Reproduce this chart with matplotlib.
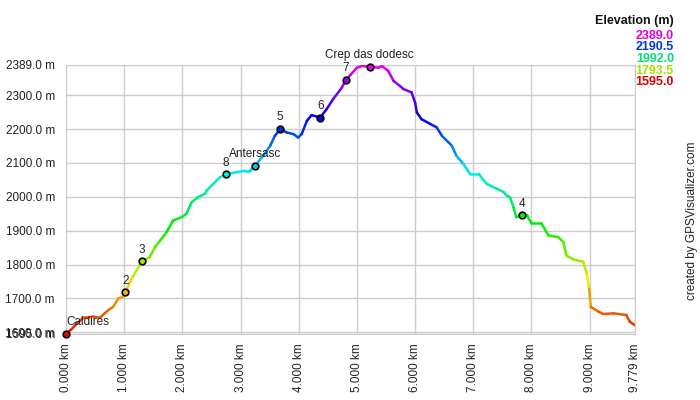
import numpy as np
import matplotlib
matplotlib.use("Agg")
import matplotlib.pyplot as plt
from matplotlib.collections import LineCollection
from matplotlib.colors import hsv_to_rgb

plt.rcParams['font.family'] = ['Liberation Sans', 'DejaVu Sans']

# profile (km, m)
dist_km = [0.00, 0.10, 0.20, 0.30, 0.47, 0.58, 0.73, 0.81, 0.90, 0.985,
           1.02, 1.15, 1.31, 1.44, 1.53, 1.62, 1.73, 1.84, 1.99, 2.07,
           2.16, 2.27, 2.39, 2.42, 2.53, 2.65, 2.75, 2.88, 3.08, 3.16,
           3.25, 3.39, 3.51, 3.59, 3.68, 3.79, 3.91, 3.99, 4.05, 4.14,
           4.22, 4.37, 4.48, 4.59, 4.74, 4.81, 4.90, 5.00, 5.08, 5.22,
           5.37, 5.43, 5.54, 5.63, 5.74, 5.80, 5.94, 6.00, 6.03, 6.11,
           6.26, 6.37, 6.46, 6.63, 6.71, 6.83, 6.94, 7.09, 7.23, 7.40,
           7.52, 7.57, 7.63, 7.69, 7.74, 7.84, 7.92, 8.00, 8.17, 8.29,
           8.46, 8.55, 8.60, 8.72, 8.89, 8.95, 8.99, 9.02, 9.15, 9.23,
           9.41, 9.63, 9.69, 9.779]
elev_m = [1595, 1610, 1628, 1643, 1646, 1643, 1666, 1675, 1700, 1705,
          1718, 1765, 1810, 1822, 1852, 1871, 1896, 1930, 1940, 1950,
          1984, 1999, 2009, 2019, 2038, 2058, 2066, 2071, 2077, 2077,
          2092, 2121, 2151, 2180, 2200, 2190, 2185, 2175, 2185, 2224,
          2241, 2234, 2259, 2288, 2322, 2345, 2362, 2381, 2386, 2384,
          2381, 2386, 2371, 2342, 2327, 2318, 2308, 2278, 2249, 2229,
          2215, 2205, 2180, 2151, 2121, 2097, 2068, 2068, 2038, 2024,
          2014, 2004, 1999, 1969, 1940, 1945, 1945, 1922, 1922, 1886,
          1881, 1866, 1827, 1815, 1808, 1773, 1729, 1675, 1661, 1654,
          1656, 1651, 1631, 1621]

wpt_names = ["Caldires", "2", "3", "8", "Antersasc", "5", "6", "7", "Crep das dodesc", "4"]
wpt_km = [0.0, 1.02, 1.31, 2.75, 3.25, 3.68, 4.37, 4.81, 5.22, 7.84]
wpt_elev = [1595, 1718, 1810, 2066, 2092, 2200, 2234, 2345, 2384, 1945]

ymin, ymax = 1595.0, 2389.0
yticks = [1595, 1600, 1700, 1800, 1900, 2000, 2100, 2200, 2300, 2389]
xticks = [0, 1, 2, 3, 4, 5, 6, 7, 8, 9, 9.779]
legend_vals = [2389.0, 2190.5, 1992.0, 1793.5, 1595.0]


def elev_color(e, v=0.93):
    f = min(max((e - ymin) / (ymax - ymin), 0), 1)
    return hsv_to_rgb((f * 5 / 6, 1, v))


fig = plt.figure(figsize=(7, 4), dpi=100)
ax = fig.add_axes([66 / 700, 1 - 334 / 400, (635 - 66) / 700, (334 - 65) / 400])

x = np.array(dist_km)
y = np.array(elev_m)
pts = np.column_stack([x, y]).reshape(-1, 1, 2)
segs = np.concatenate([pts[:-1], pts[1:]], axis=1)
cols = [elev_color((a + b) / 2) for a, b in zip(y[:-1], y[1:])]
ax.add_collection(LineCollection(segs, colors=cols, linewidths=1.8, capstyle='round', zorder=3))

for name, wx, wy in zip(wpt_names, wpt_km, wpt_elev):
    ax.plot(wx, wy, 'o', ms=4.8, mfc=elev_color(wy), mec='black', mew=1.2, zorder=4, clip_on=False)
    if name == "Caldires":
        ax.annotate(name, (wx, wy), xytext=(0, 4), textcoords='offset points',
                    ha='left', va='bottom', fontsize=8.5, color='#222222', zorder=5)
    else:
        ax.annotate(name, (wx, wy), xytext=(0, 4), textcoords='offset points',
                    ha='center', va='bottom', fontsize=8.5, color='#222222', zorder=5)

ax.set_xlim(0, 9.779)
ax.set_ylim(ymin, ymax)
ax.set_yticks(yticks)
ax.set_yticklabels(["%.1f m" % v for v in yticks])
ax.set_xticks(xticks)
ax.set_xticklabels(["%.3f km" % v for v in xticks], rotation=90)
ax.tick_params(length=0, labelsize=8.5, colors='#222222')
ax.tick_params(axis='y', pad=8)
ax.tick_params(axis='x', pad=7)
ax.grid(True, color='#cccccc', lw=1)
ax.set_axisbelow(True)
for s in ax.spines.values():
    s.set_color('#cccccc')

fig.text(674 / 700, 1 - 21 / 400, "Elevation (m)", ha='right', va='center',
         fontsize=9, fontweight='bold', color='#111111')
for i, v in enumerate(legend_vals):
    fig.text(674 / 700, 1 - (36 + 11.5 * i) / 400, "%.1f" % v, ha='right', va='center',
             fontsize=9, fontweight='bold', color=elev_color(v, 0.88))

fig.text(692 / 700, 1 - 221 / 400, "created by GPSVisualizer.com", rotation=90,
         ha='center', va='center', fontsize=8.5, color='#222222')

fig.savefig("out.png", dpi=100)
